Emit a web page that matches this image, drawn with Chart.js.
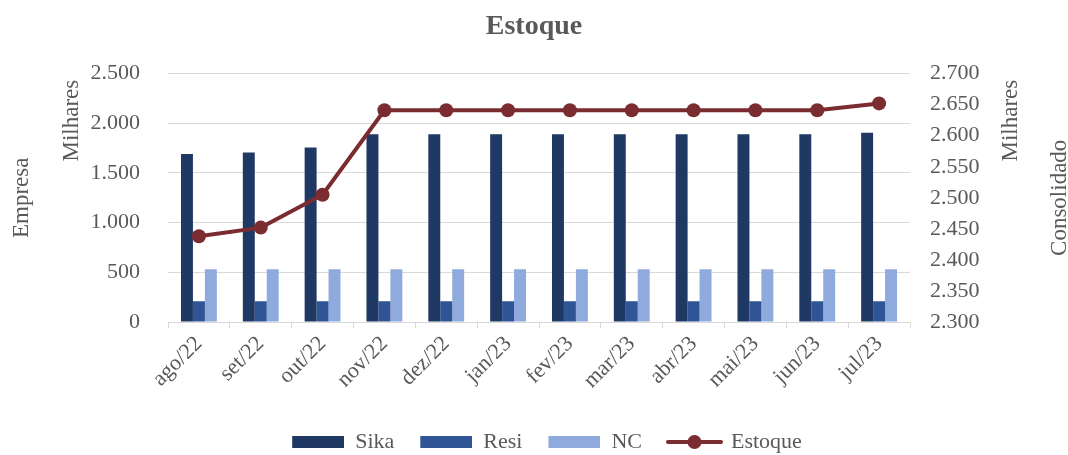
<!DOCTYPE html>
<html>
<head>
<meta charset="utf-8">
<title>Estoque</title>
<script src="https://cdn.jsdelivr.net/npm/chart.js@4.4.0/dist/chart.umd.min.js"></script>
<style>
  html, body { margin: 0; padding: 0; background: #fff; }
  #wrap { width: 1068px; height: 455px; }
</style>
</head>
<body>
<div id="wrap"><canvas id="estoqueChart"></canvas></div>
<script>
'use strict';

// Chart data (values in thousands)
const months = ['ago/22', 'set/22', 'out/22', 'nov/22', 'dez/22', 'jan/23', 'fev/23', 'mar/23', 'abr/23', 'mai/23', 'jun/23', 'jul/23'];
const sika = [1690, 1705, 1755, 1890, 1890, 1890, 1890, 1890, 1890, 1890, 1890, 1905];
const resi = [210, 210, 210, 210, 210, 210, 210, 210, 210, 210, 210, 210];
const nc = [530, 530, 530, 530, 530, 530, 530, 530, 530, 530, 530, 530];
const estoque = [2438, 2452, 2505, 2641, 2641, 2641, 2641, 2641, 2641, 2641, 2641, 2652];

const leftTicks = { min: 0, max: 2500, step: 500 };
const rightTicks = { min: 2300, max: 2700, step: 50 };

const textColor = '#595959';
const fontFamily = '"Liberation Serif", "Times New Roman", serif';
const colors = {
    sika: '#203864',
    resi: '#2F5597',
    nc: '#8FAADC',
    estoque: '#7B2C30'
};

function formatThousands(value) {
    return String(value).replace(/\B(?=(\d{3})+(?!\d))/g, '.');
}

// legend symbols drawn on small canvases (leading blank = gap between items)
function boxSymbol(color) {
    const c = document.createElement('canvas');
    c.width = 78;
    c.height = 12;
    const g = c.getContext('2d');
    g.fillStyle = color;
    g.fillRect(26, 0, 52, 12);
    return c;
}

function lineSymbol(color) {
    const c = document.createElement('canvas');
    c.width = 84;
    c.height = 16;
    const g = c.getContext('2d');
    g.strokeStyle = color;
    g.lineWidth = 4;
    g.lineCap = 'round';
    g.beginPath();
    g.moveTo(29, 8);
    g.lineTo(82, 8);
    g.stroke();
    g.fillStyle = color;
    g.beginPath();
    g.arc(55.5, 8, 7, 0, Math.PI * 2);
    g.fill();
    return c;
}

const legendSymbols = [boxSymbol(colors.sika), boxSymbol(colors.resi), boxSymbol(colors.nc), lineSymbol(colors.estoque)];

// side labels that Excel puts next to the axes (all read bottom to top)
const sideLabels = {
    id: 'sideLabels',
    afterDraw(chart) {
        const ctx = chart.ctx;
        const area = chart.chartArea;
        const midY = (area.top + area.bottom) / 2;
        ctx.save();
        ctx.fillStyle = textColor;
        ctx.textAlign = 'center';
        ctx.textBaseline = 'middle';
        [
            ['Milhares', area.left - 96, area.top + 47],
            ['Milhares', area.right + 101, area.top + 47],
            ['Consolidado', area.right + 150, midY]
        ].forEach(function(p) {
            ctx.save();
            ctx.font = '23px ' + fontFamily;
            ctx.translate(p[1], p[2]);
            ctx.rotate(-Math.PI / 2);
            ctx.fillText(p[0], 0, 0);
            ctx.restore();
        });
        ctx.restore();
    }
};

document.addEventListener('DOMContentLoaded', function() {
    const ctx = document.getElementById('estoqueChart').getContext('2d');

    const barCommon = {
        type: 'bar',
        yAxisID: 'y',
        categoryPercentage: 0.58,
        barPercentage: 1,
        order: 1
    };

    new Chart(ctx, {
        data: {
            labels: months,
            datasets: [
                Object.assign({ label: 'Sika', data: sika, backgroundColor: colors.sika }, barCommon),
                Object.assign({ label: 'Resi', data: resi, backgroundColor: colors.resi }, barCommon),
                Object.assign({ label: 'NC', data: nc, backgroundColor: colors.nc }, barCommon),
                {
                    type: 'line',
                    label: 'Estoque',
                    data: estoque,
                    yAxisID: 'y1',
                    borderColor: colors.estoque,
                    backgroundColor: colors.estoque,
                    borderWidth: 4,
                    pointRadius: 7,
                    pointHoverRadius: 7,
                    pointBackgroundColor: colors.estoque,
                    pointBorderWidth: 0,
                    tension: 0,
                    order: 0
                }
            ]
        },
        options: {
            responsive: true,
            maintainAspectRatio: false,
            animation: false,
            layout: {
                padding: { top: 0, left: 0, right: 0, bottom: -8 }
            },
            scales: {
                x: {
                    grid: {
                        offset: true,
                        drawOnChartArea: false,
                        drawTicks: true,
                        tickLength: 6,
                        color: '#D9D9D9'
                    },
                    border: { display: true, color: '#D9D9D9' },
                    ticks: {
                        color: textColor,
                        font: { family: fontFamily, size: 22 },
                        autoSkip: false,
                        maxRotation: 45,
                        minRotation: 45,
                        padding: 3
                    },
                    afterFit: function(scale) { scale.height = 109; }
                },
                y: {
                    position: 'left',
                    min: leftTicks.min,
                    max: leftTicks.max,
                    grid: { color: '#D9D9D9', drawTicks: false },
                    border: { display: false },
                    ticks: {
                        stepSize: leftTicks.step,
                        padding: 28,
                        color: textColor,
                        font: { family: fontFamily, size: 22 },
                        callback: function(v) { return formatThousands(v); }
                    },
                    title: {
                        display: true,
                        text: 'Empresa',
                        color: textColor,
                        font: { family: fontFamily, size: 23, lineHeight: 0.8 },
                        padding: { top: 13, bottom: 0 }
                    },
                    afterFit: function(scale) { scale.width = 168; }
                },
                y1: {
                    position: 'right',
                    min: rightTicks.min,
                    max: rightTicks.max,
                    grid: { display: false, drawTicks: false },
                    border: { display: false },
                    ticks: {
                        stepSize: rightTicks.step,
                        padding: 20,
                        color: textColor,
                        font: { family: fontFamily, size: 22 },
                        callback: function(v) { return formatThousands(v); }
                    },
                    afterFit: function(scale) { scale.width = 158; }
                }
            },
            plugins: {
                title: {
                    display: true,
                    text: 'Estoque',
                    color: textColor,
                    font: { family: fontFamily, size: 28, weight: 'bold', lineHeight: 1.2 },
                    padding: { top: 10, bottom: 30 }
                },
                legend: {
                    display: true,
                    position: 'bottom',
                    labels: {
                        usePointStyle: true,
                        pointStyleWidth: 78,
                        padding: 0,
                        color: textColor,
                        font: { family: fontFamily, size: 22 },
                        generateLabels: function(chart) {
                            const items = Chart.defaults.plugins.legend.labels.generateLabels(chart);
                            items.sort(function(a, b) { return a.datasetIndex - b.datasetIndex; });
                            items.forEach(function(item) {
                                item.pointStyle = legendSymbols[item.datasetIndex];
                            });
                            return items;
                        }
                    }
                },
                tooltip: { enabled: false }
            }
        },
        plugins: [sideLabels]
    });
});
</script>
</body>
</html>
